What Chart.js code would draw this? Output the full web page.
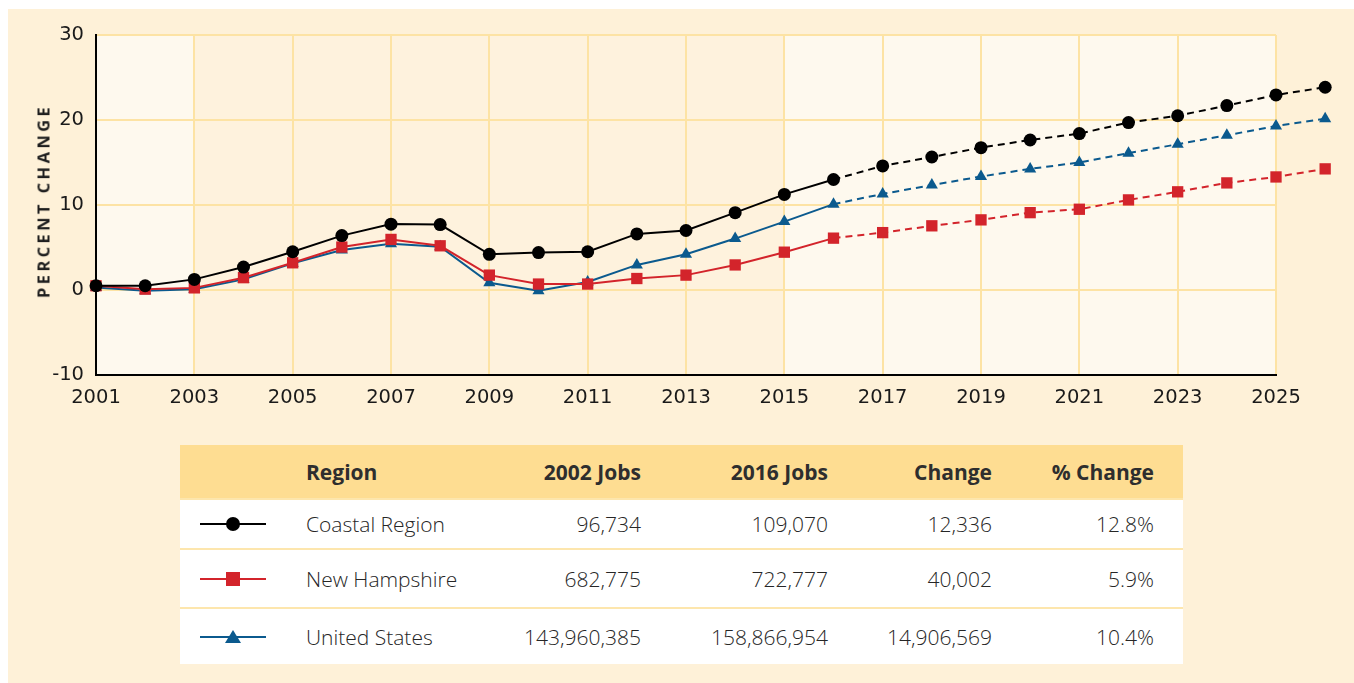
<!DOCTYPE html>
<html>
<head>
<meta charset="utf-8">
<title>Percent change in jobs</title>
<script src="https://cdn.jsdelivr.net/npm/chart.js@4.4.1/dist/chart.umd.min.js"></script>
<style>
  body { margin: 0; background: #fff; font-family: "Open Sans", Lato, sans-serif; color: #2b2b2b; }
  #panel { position: absolute; left: 8px; top: 9px; width: 1346px; height: 674px; background: #fef1d8; }
  #chartBox { position: absolute; left: 0; top: 0; width: 1354px; height: 420px; }
  #yTitle {
    position: absolute; left: 43px; top: 201px; transform: translate(-50%, -50%) rotate(-90deg);
    white-space: nowrap; font-weight: 700; font-size: 16.5px; letter-spacing: 3.4px; color: #1e1e1e;
  }
  #jobsTable {
    position: absolute; left: 180px; top: 445px; width: 1003px;
    border-collapse: collapse; table-layout: fixed; font-size: 21px;
  }
  #jobsTable th { background: #fedd92; font-weight: 700; height: 53px; padding: 0; color: #2e2e2e; }
  #jobsTable td { background: #fff; font-weight: 300; padding: 0; border-top: 2px solid #fde6ad; color: #262626; }
  #jobsTable .left { text-align: left; }
  #jobsTable .num { text-align: right; }
  .icon { position: relative; width: 66px; height: 16px; margin-left: 20px; }
  .icon .line { position: absolute; left: 0; top: 7px; width: 66px; height: 2px; }
  .icon .mark { position: absolute; }
</style>
</head>
<body>
<div id="panel"></div>
<div id="chartBox"><canvas id="grafico" width="1354" height="420"></canvas></div>
<div id="yTitle">PERCENT CHANGE</div>
<table id="jobsTable">
  <colgroup>
    <col style="width:126px"><col style="width:200px"><col style="width:135px">
    <col style="width:187px"><col style="width:164px"><col style="width:162px"><col style="width:29px">
  </colgroup>
  <thead>
    <tr><th></th><th class="left">Region</th><th class="num">2002 Jobs</th><th class="num">2016 Jobs</th>
      <th class="num">Change</th><th class="num">% Change</th><th></th></tr>
  </thead>
  <tbody id="cuerpoTabla"></tbody>
</table>

<script>
// datos del grafico (variacion porcentual desde 2001)
const years = [2001, 2002, 2003, 2004, 2005, 2006, 2007, 2008, 2009, 2010, 2011, 2012, 2013,
  2014, 2015, 2016, 2017, 2018, 2019, 2020, 2021, 2022, 2023, 2024, 2025, 2026];
const coastal = [0.5, 0.5, 1.25, 2.7, 4.5, 6.4, 7.75, 7.7, 4.2, 4.4, 4.5, 6.6, 7.0,
  9.1, 11.25, 13.0, 14.6, 15.65, 16.75, 17.65, 18.4, 19.7, 20.5, 21.7, 22.95, 23.85];
const newHampshire = [0.5, 0.1, 0.25, 1.45, 3.2, 5.05, 5.95, 5.2, 1.75, 0.7, 0.7, 1.35, 1.75,
  2.95, 4.45, 6.1, 6.75, 7.55, 8.25, 9.1, 9.5, 10.6, 11.55, 12.6, 13.3, 14.25];
const unitedStates = [0.3, -0.1, 0.1, 1.25, 3.15, 4.7, 5.45, 5.1, 0.85, -0.1, 0.95, 2.95, 4.2,
  6.05, 8.05, 10.1, 11.3, 12.35, 13.35, 14.25, 15.0, 16.1, 17.15, 18.2, 19.3, 20.15];
const xTicks = [2001, 2003, 2005, 2007, 2009, 2011, 2013, 2015, 2017, 2019, 2021, 2023, 2025];
const yTicks = [-10, 0, 10, 20, 30];
const firstProjectedYear = 2016; // desde aqui la linea es discontinua

// datos de la tabla
const regions = ["Coastal Region", "New Hampshire", "United States"];
const jobs2002 = ["96,734", "682,775", "143,960,385"];
const jobs2016 = ["109,070", "722,777", "158,866,954"];
const jobsChange = ["12,336", "40,002", "14,906,569"];
const pctChange = ["12.8%", "5.9%", "10.4%"];

const colores = ["#000000", "#d3242b", "#0b5a8e"];
const marcas = ["circle", "rect", "triangle"];

function puntos(valores) {
  return years.map((y, i) => ({ x: y, y: valores[i] }));
}

function discontinua(ctx) {
  return years[ctx.p0DataIndex] >= firstProjectedYear ? [7, 5] : undefined;
}

// franjas de fondo del area del grafico
const fondoPlugin = {
  id: "fondo",
  beforeDraw(chart) {
    const { ctx, chartArea, scales } = chart;
    const franjas = [[2001, 2003, "#fef9ee"], [2003, 2015, "#fef2dd"], [2015, 2025, "#fef9ee"]];
    ctx.save();
    franjas.forEach(f => {
      const x0 = scales.x.getPixelForValue(f[0]);
      const x1 = scales.x.getPixelForValue(f[1]);
      ctx.fillStyle = f[2];
      ctx.fillRect(x0, chartArea.top, x1 - x0, chartArea.bottom - chartArea.top);
    });
    ctx.restore();
  }
};

// el ultimo año (2026) queda fuera del area: se amplia solo mientras se dibujan las series
const areaPlugin = {
  id: "areaAmpliada",
  beforeDatasetsDraw(chart) {
    chart._areaGuardada = chart.chartArea;
    chart.chartArea = Object.assign({}, chart.chartArea, { right: chart.width });
  },
  afterDatasetsDraw(chart) {
    chart.chartArea = chart._areaGuardada;
  }
};

const fuenteEje = { family: "DejaVu Sans", size: 19.5 };

new Chart(document.getElementById("grafico").getContext("2d"), {
  type: "line",
  data: {
    datasets: [
      { label: regions[0], data: puntos(coastal), borderColor: colores[0], backgroundColor: colores[0],
        pointStyle: marcas[0], pointRadius: 6.5 },
      { label: regions[1], data: puntos(newHampshire), borderColor: colores[1], backgroundColor: colores[1],
        pointStyle: marcas[1], pointRadius: 8 },
      { label: regions[2], data: puntos(unitedStates), borderColor: colores[2], backgroundColor: colores[2],
        pointStyle: marcas[2], pointRadius: 7 }
    ]
  },
  options: {
    responsive: false,
    animation: false,
    devicePixelRatio: 1,
    layout: { padding: { left: 0, top: 35, right: 78, bottom: 0 } },
    datasets: {
      line: {
        borderWidth: 2,
        tension: 0,
        clip: false,
        pointBorderWidth: 0,
        pointHoverRadius: 7,
        segment: { borderDash: discontinua }
      }
    },
    plugins: {
      legend: { display: false },
      tooltip: { enabled: false }
    },
    scales: {
      x: {
        type: "linear",
        bounds: "data",
        afterDataLimits: s => { s.min = xTicks[0]; s.max = xTicks[xTicks.length - 1]; },
        afterBuildTicks: s => { s.ticks = xTicks.map(v => ({ value: v })); },
        afterFit: s => { s.height = 45; },
        grid: { color: "#fde3a4", lineWidth: 2, drawTicks: false },
        border: { color: "#000", width: 2 },
        ticks: { padding: 11, color: "#1a1a1a", font: fuenteEje, maxRotation: 0, autoSkip: false,
          callback: v => String(v) }
      },
      y: {
        min: yTicks[0],
        max: yTicks[yTicks.length - 1],
        afterBuildTicks: s => { s.ticks = yTicks.map(v => ({ value: v })); },
        afterFit: s => { s.width = 96; },
        grid: { color: "#fde3a4", lineWidth: 2, drawTicks: false },
        border: { color: "#000", width: 2 },
        ticks: { padding: 12, color: "#1a1a1a", font: fuenteEje }
      }
    }
  },
  plugins: [fondoPlugin, areaPlugin]
});

// filas de la tabla con su icono de leyenda
const alturas = [50, 59, 56];
const cuerpo = document.getElementById("cuerpoTabla");
for (let i = 0; i < regions.length; i++) {
  const fila = document.createElement("tr");
  fila.style.height = alturas[i] + "px";

  const celdaIcono = document.createElement("td");
  const icono = document.createElement("div");
  icono.className = "icon";
  const linea = document.createElement("div");
  linea.className = "line";
  linea.style.background = colores[i];
  const marca = document.createElement("div");
  marca.className = "mark";
  if (marcas[i] === "circle") {
    marca.style.cssText = "left:26px;top:1px;width:14px;height:14px;border-radius:50%;background:" + colores[i];
  } else if (marcas[i] === "rect") {
    marca.style.cssText = "left:26px;top:1px;width:14px;height:14px;background:" + colores[i];
  } else {
    marca.style.cssText = "left:25px;top:1px;width:0;height:0;border-left:8px solid transparent;" +
      "border-right:8px solid transparent;border-bottom:13px solid " + colores[i];
  }
  icono.appendChild(linea);
  icono.appendChild(marca);
  celdaIcono.appendChild(icono);
  fila.appendChild(celdaIcono);

  const textos = [regions[i], jobs2002[i], jobs2016[i], jobsChange[i], pctChange[i], ""];
  textos.forEach((t, j) => {
    const celda = document.createElement("td");
    celda.className = j === 0 ? "left" : "num";
    celda.textContent = t;
    fila.appendChild(celda);
  });
  cuerpo.appendChild(fila);
}
</script>
</body>
</html>
